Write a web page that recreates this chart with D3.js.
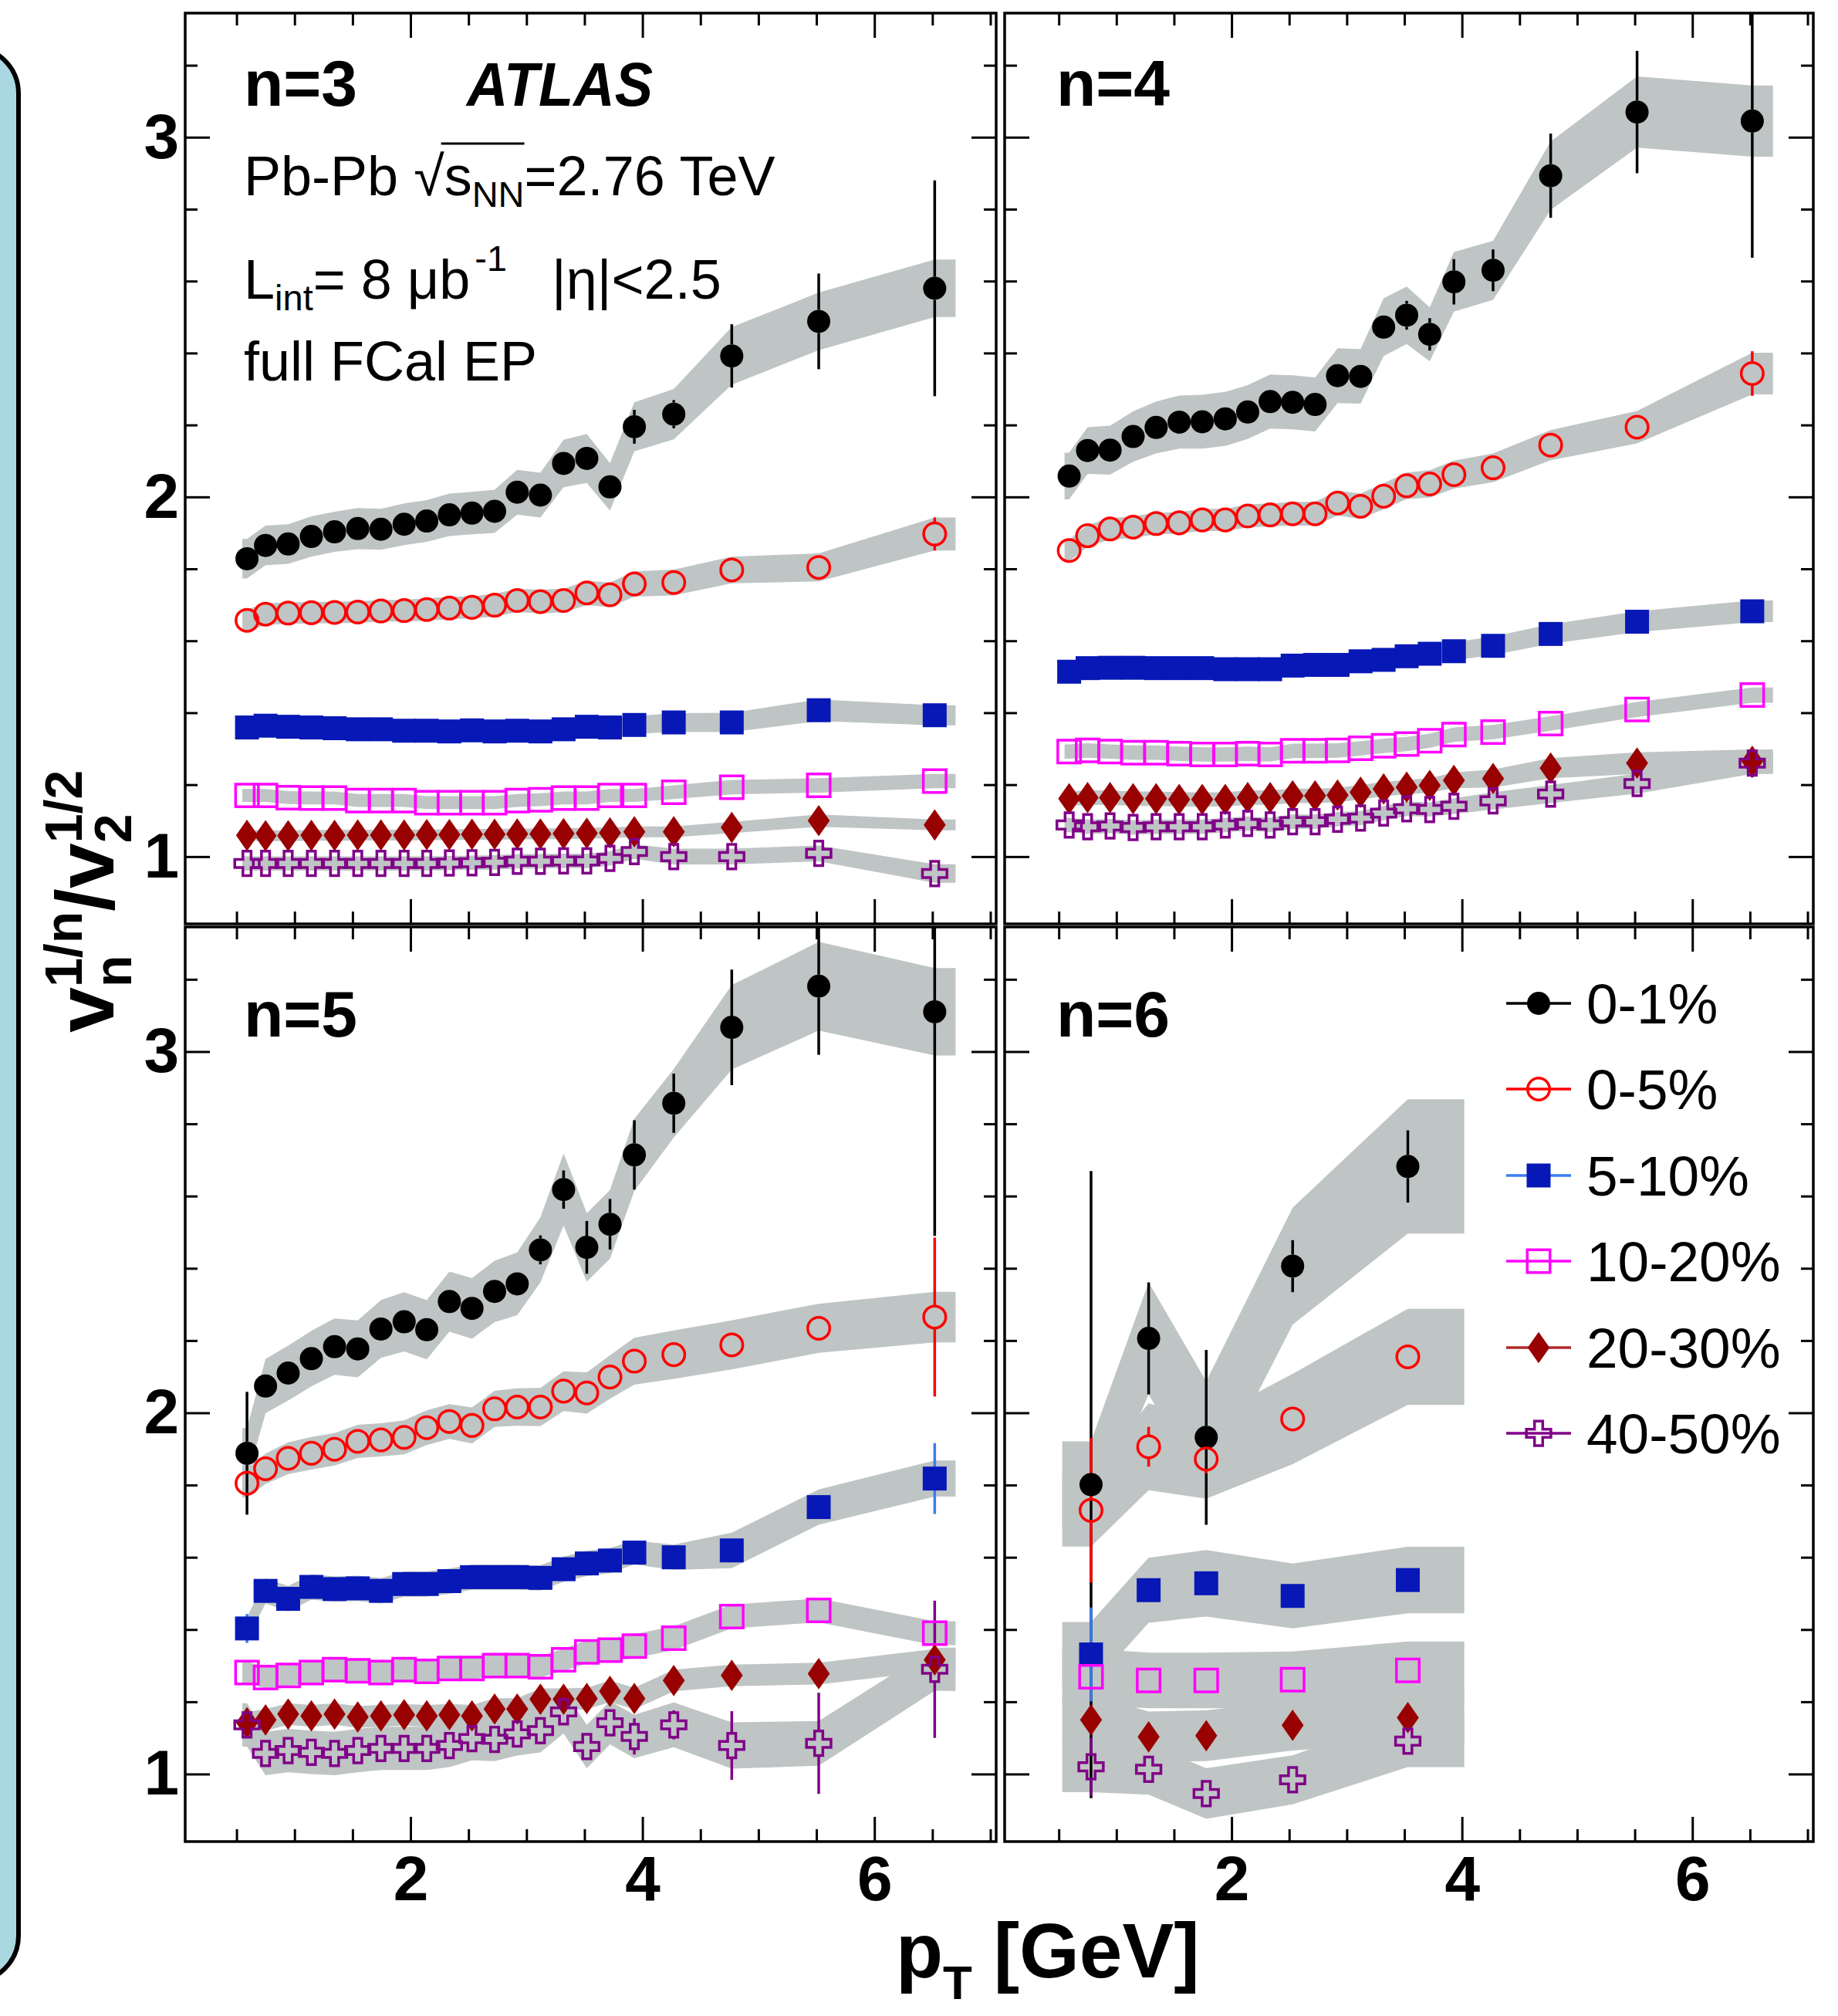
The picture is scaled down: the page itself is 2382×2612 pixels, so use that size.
<!DOCTYPE html>
<html>
<head>
<meta charset="utf-8">
<script src="https://cdn.jsdelivr.net/npm/d3@7"></script>
<style>
  body { margin: 0; background: #fff; }
  svg { display: block; }
</style>
</head>
<body>
<script>
const FONT = '"Liberation Sans", Arial, Helvetica, sans-serif';

// ---- data -------------------------------------------------------------
const centralities = ["0-1%", "0-5%", "5-10%", "10-20%", "20-30%", "40-50%"];
const panelLabels = ["n=3", "n=4", "n=5", "n=6"];
const yTickValues = [1, 2, 3];
const xTickValues = [2, 4, 6];

// pT bin centres (GeV)
const ptBins = [0.59, 0.75, 0.945, 1.145, 1.345, 1.545, 1.745, 1.945, 2.14, 2.335, 2.53,
                2.725, 2.92, 3.12, 3.32, 3.52, 3.72, 3.93, 4.27, 4.77, 5.52, 6.52];
const ptBinsN6 = [0.78, 1.28, 1.78, 2.53, 3.53];
// extent of the systematic bands
const bandRange = [[0.55, 6.7], [0.55, 6.7], [0.55, 6.7], [0.53, 4.02]];

// n=3  (v = value, s = systematic half width, e = statistical error)
const v3_01 = [1.828, 1.865, 1.869, 1.890, 1.903, 1.912, 1.910, 1.924, 1.933, 1.950, 1.955, 1.960, 2.013, 2.005, 2.093, 2.107, 2.028, 2.195, 2.230, 2.392, 2.488, 2.580];
const s3_01 = [0.055, 0.055, 0.055, 0.056, 0.056, 0.057, 0.057, 0.058, 0.058, 0.059, 0.059, 0.060, 0.062, 0.062, 0.066, 0.068, 0.066, 0.068, 0.070, 0.080, 0.080, 0.080];
const e3_01 = [0.01, 0.01, 0.01, 0.01, 0.01, 0.01, 0.01, 0.01, 0.01, 0.01, 0.012, 0.012, 0.014, 0.015, 0.018, 0.02, 0.03, 0.047, 0.039, 0.088, 0.133, 0.30];
const v3_05 = [1.657, 1.674, 1.677, 1.678, 1.679, 1.680, 1.683, 1.684, 1.687, 1.691, 1.693, 1.699, 1.712, 1.709, 1.712, 1.733, 1.728, 1.758, 1.762, 1.797, 1.804, 1.897];
const s3_05 = [0.030, 0.030, 0.030, 0.030, 0.030, 0.030, 0.030, 0.030, 0.031, 0.031, 0.031, 0.032, 0.032, 0.033, 0.033, 0.034, 0.034, 0.035, 0.036, 0.037, 0.039, 0.046];
const e3_05 = [0.01, 0.01, 0.01, 0.01, 0.01, 0.01, 0.01, 0.01, 0.01, 0.01, 0.01, 0.01, 0.01, 0.01, 0.01, 0.01, 0.01, 0.01, 0.01, 0.01, 0.02, 0.046];
const v3_510 = [1.359, 1.364, 1.361, 1.359, 1.357, 1.354, 1.354, 1.350, 1.350, 1.348, 1.351, 1.348, 1.350, 1.348, 1.354, 1.361, 1.359, 1.366, 1.373, 1.373, 1.407, 1.393];
const s3_510 = [0.025, 0.025, 0.025, 0.025, 0.025, 0.025, 0.025, 0.025, 0.025, 0.025, 0.025, 0.025, 0.025, 0.025, 0.025, 0.025, 0.025, 0.025, 0.026, 0.027, 0.030, 0.028];
const e3_510 = [0.01, 0.01, 0.01, 0.01, 0.01, 0.01, 0.01, 0.01, 0.01, 0.01, 0.01, 0.01, 0.01, 0.01, 0.01, 0.01, 0.01, 0.01, 0.01, 0.01, 0.01, 0.01];
const v3_1020 = [1.170, 1.170, 1.164, 1.163, 1.163, 1.156, 1.156, 1.156, 1.150, 1.150, 1.150, 1.150, 1.156, 1.158, 1.163, 1.163, 1.170, 1.170, 1.179, 1.193, 1.198, 1.210];
const s3_1020 = [0.018, 0.018, 0.018, 0.018, 0.018, 0.018, 0.018, 0.018, 0.018, 0.018, 0.018, 0.018, 0.018, 0.018, 0.018, 0.018, 0.018, 0.018, 0.019, 0.020, 0.020, 0.020];
const e3_1020 = [0.01, 0.01, 0.01, 0.01, 0.01, 0.01, 0.01, 0.01, 0.01, 0.01, 0.01, 0.01, 0.01, 0.01, 0.01, 0.01, 0.01, 0.01, 0.01, 0.01, 0.01, 0.01];
const v3_2030 = [1.059, 1.058, 1.058, 1.059, 1.059, 1.060, 1.060, 1.060, 1.061, 1.061, 1.062, 1.062, 1.063, 1.063, 1.064, 1.065, 1.066, 1.069, 1.069, 1.081, 1.100, 1.088];
const s3_2030 = [0.015, 0.015, 0.015, 0.015, 0.015, 0.015, 0.015, 0.015, 0.015, 0.015, 0.015, 0.015, 0.015, 0.015, 0.015, 0.015, 0.015, 0.015, 0.015, 0.016, 0.017, 0.015];
const e3_2030 = [0.01, 0.01, 0.01, 0.01, 0.01, 0.01, 0.01, 0.01, 0.01, 0.01, 0.01, 0.01, 0.01, 0.01, 0.01, 0.01, 0.01, 0.01, 0.01, 0.01, 0.01, 0.01];
const v3_4050 = [0.981, 0.981, 0.981, 0.981, 0.981, 0.981, 0.981, 0.981, 0.981, 0.982, 0.983, 0.984, 0.987, 0.987, 0.988, 0.988, 0.995, 1.014, 1.000, 1.000, 1.009, 0.953];
const s3_4050 = [0.020, 0.020, 0.020, 0.020, 0.020, 0.020, 0.020, 0.020, 0.020, 0.020, 0.020, 0.020, 0.020, 0.020, 0.020, 0.020, 0.020, 0.020, 0.022, 0.022, 0.022, 0.026];
const e3_4050 = [0.01, 0.01, 0.01, 0.01, 0.01, 0.01, 0.01, 0.01, 0.01, 0.01, 0.01, 0.01, 0.01, 0.01, 0.01, 0.01, 0.01, 0.01, 0.01, 0.01, 0.01, 0.03];

// n=4
const v4_01 = [2.058, 2.129, 2.130, 2.168, 2.193, 2.208, 2.209, 2.217, 2.236, 2.265, 2.263, 2.257, 2.337, 2.335, 2.472, 2.505, 2.452, 2.598, 2.630, 2.893, 3.070, 3.045];
const s4_01 = [0.065, 0.065, 0.068, 0.070, 0.072, 0.074, 0.075, 0.075, 0.075, 0.075, 0.075, 0.075, 0.076, 0.076, 0.080, 0.080, 0.075, 0.083, 0.082, 0.095, 0.099, 0.099];
const e4_01 = [0.01, 0.01, 0.01, 0.01, 0.01, 0.01, 0.01, 0.01, 0.01, 0.012, 0.012, 0.012, 0.015, 0.015, 0.02, 0.04, 0.045, 0.063, 0.058, 0.117, 0.17, 0.38];
const v4_05 = [1.851, 1.892, 1.911, 1.916, 1.926, 1.928, 1.936, 1.936, 1.947, 1.950, 1.953, 1.953, 1.983, 1.974, 2.002, 2.031, 2.036, 2.062, 2.081, 2.144, 2.194, 2.343];
const s4_05 = [0.030, 0.030, 0.030, 0.030, 0.030, 0.030, 0.031, 0.031, 0.032, 0.032, 0.033, 0.033, 0.035, 0.035, 0.036, 0.037, 0.038, 0.039, 0.040, 0.042, 0.045, 0.058];
const e4_05 = [0.01, 0.01, 0.01, 0.01, 0.01, 0.01, 0.01, 0.01, 0.01, 0.01, 0.01, 0.01, 0.01, 0.01, 0.01, 0.01, 0.01, 0.01, 0.01, 0.01, 0.02, 0.062];
const v4_510 = [1.514, 1.524, 1.525, 1.525, 1.524, 1.524, 1.524, 1.521, 1.521, 1.521, 1.531, 1.533, 1.533, 1.543, 1.547, 1.557, 1.564, 1.571, 1.586, 1.619, 1.653, 1.682];
const s4_510 = [0.025, 0.025, 0.025, 0.025, 0.025, 0.025, 0.025, 0.025, 0.025, 0.025, 0.025, 0.025, 0.025, 0.025, 0.025, 0.025, 0.025, 0.025, 0.026, 0.027, 0.029, 0.030];
const e4_510 = [0.01, 0.01, 0.01, 0.01, 0.01, 0.01, 0.01, 0.01, 0.01, 0.01, 0.01, 0.01, 0.01, 0.01, 0.01, 0.01, 0.01, 0.01, 0.01, 0.01, 0.01, 0.01];
const v4_1020 = [1.292, 1.295, 1.292, 1.289, 1.289, 1.286, 1.284, 1.284, 1.286, 1.284, 1.294, 1.294, 1.295, 1.301, 1.308, 1.313, 1.322, 1.339, 1.346, 1.370, 1.409, 1.449];
const s4_1020 = [0.020, 0.020, 0.020, 0.020, 0.020, 0.020, 0.020, 0.020, 0.020, 0.020, 0.020, 0.020, 0.020, 0.020, 0.020, 0.020, 0.020, 0.020, 0.020, 0.020, 0.021, 0.021];
const e4_1020 = [0.01, 0.01, 0.01, 0.01, 0.01, 0.01, 0.01, 0.01, 0.01, 0.01, 0.01, 0.01, 0.01, 0.01, 0.01, 0.01, 0.01, 0.01, 0.01, 0.01, 0.01, 0.01];
const v4_2030 = [1.161, 1.164, 1.164, 1.161, 1.161, 1.159, 1.159, 1.159, 1.164, 1.164, 1.169, 1.169, 1.171, 1.179, 1.188, 1.193, 1.198, 1.212, 1.217, 1.246, 1.260, 1.265];
const s4_2030 = [0.020, 0.020, 0.020, 0.020, 0.020, 0.020, 0.020, 0.020, 0.020, 0.020, 0.020, 0.020, 0.020, 0.020, 0.020, 0.020, 0.020, 0.022, 0.025, 0.028, 0.030, 0.033];
const e4_2030 = [0.01, 0.01, 0.01, 0.01, 0.01, 0.01, 0.01, 0.01, 0.01, 0.01, 0.01, 0.01, 0.01, 0.01, 0.01, 0.01, 0.01, 0.01, 0.01, 0.01, 0.01, 0.02];
const v4_4050 = [1.088, 1.083, 1.085, 1.081, 1.083, 1.083, 1.083, 1.088, 1.092, 1.088, 1.097, 1.097, 1.104, 1.107, 1.121, 1.133, 1.131, 1.140, 1.155, 1.174, 1.203, 1.260];
const s4_4050 = [0.020, 0.020, 0.020, 0.020, 0.020, 0.020, 0.020, 0.020, 0.020, 0.020, 0.020, 0.020, 0.020, 0.020, 0.020, 0.020, 0.020, 0.022, 0.024, 0.025, 0.028, 0.030];
const e4_4050 = [0.01, 0.01, 0.01, 0.01, 0.01, 0.01, 0.01, 0.01, 0.01, 0.01, 0.01, 0.01, 0.01, 0.01, 0.01, 0.01, 0.01, 0.01, 0.01, 0.01, 0.02, 0.04];

// n=5
const v5_01 = [1.888, 2.074, 2.110, 2.150, 2.183, 2.177, 2.232, 2.252, 2.230, 2.308, 2.289, 2.336, 2.357, 2.451, 2.618, 2.458, 2.522, 2.714, 2.857, 3.067, 3.181, 3.110];
const s5_01 = [0.070, 0.075, 0.076, 0.077, 0.078, 0.079, 0.080, 0.082, 0.082, 0.083, 0.084, 0.085, 0.087, 0.090, 0.100, 0.095, 0.095, 0.100, 0.095, 0.117, 0.123, 0.121];
const e5_01 = [0.17, 0.03, 0.02, 0.015, 0.015, 0.015, 0.015, 0.02, 0.02, 0.02, 0.02, 0.025, 0.03, 0.04, 0.053, 0.073, 0.07, 0.096, 0.082, 0.16, 0.19, 0.62];
const v5_05 = [1.805, 1.845, 1.874, 1.888, 1.899, 1.921, 1.925, 1.932, 1.959, 1.976, 1.965, 2.011, 2.016, 2.016, 2.060, 2.055, 2.099, 2.143, 2.161, 2.188, 2.234, 2.265];
const s5_05 = [0.040, 0.042, 0.044, 0.045, 0.045, 0.046, 0.046, 0.047, 0.048, 0.048, 0.050, 0.050, 0.052, 0.053, 0.055, 0.057, 0.060, 0.065, 0.067, 0.068, 0.068, 0.070];
const e5_05 = [0.03, 0.01, 0.01, 0.01, 0.01, 0.01, 0.01, 0.01, 0.01, 0.01, 0.01, 0.01, 0.01, 0.01, 0.01, 0.01, 0.01, 0.01, 0.02, 0.025, 0.034, 0.22];
const v5_510 = [1.403, 1.507, 1.485, 1.518, 1.512, 1.514, 1.507, 1.526, 1.526, 1.534, 1.545, 1.545, 1.545, 1.543, 1.567, 1.583, 1.591, 1.613, 1.600, 1.619, 1.739, 1.818];
const s5_510 = [0.030, 0.035, 0.035, 0.035, 0.035, 0.035, 0.035, 0.035, 0.035, 0.035, 0.035, 0.035, 0.035, 0.035, 0.035, 0.035, 0.035, 0.033, 0.035, 0.049, 0.049, 0.050];
const e5_510 = [0.04, 0.01, 0.01, 0.01, 0.01, 0.01, 0.01, 0.01, 0.01, 0.01, 0.01, 0.01, 0.01, 0.01, 0.01, 0.01, 0.01, 0.01, 0.01, 0.01, 0.02, 0.098];
const v5_1020 = [1.281, 1.267, 1.273, 1.281, 1.289, 1.286, 1.281, 1.289, 1.284, 1.292, 1.292, 1.300, 1.300, 1.297, 1.316, 1.338, 1.343, 1.354, 1.376, 1.436, 1.453, 1.390];
const s5_1020 = [0.030, 0.030, 0.030, 0.030, 0.030, 0.030, 0.030, 0.030, 0.030, 0.030, 0.030, 0.030, 0.030, 0.030, 0.031, 0.032, 0.032, 0.033, 0.033, 0.033, 0.033, 0.033];
const e5_1020 = [0.01, 0.01, 0.01, 0.01, 0.01, 0.01, 0.01, 0.01, 0.01, 0.01, 0.01, 0.01, 0.01, 0.01, 0.01, 0.01, 0.01, 0.01, 0.01, 0.01, 0.01, 0.01];
const v5_2030 = [1.142, 1.150, 1.166, 1.161, 1.166, 1.158, 1.161, 1.164, 1.161, 1.164, 1.161, 1.180, 1.180, 1.207, 1.207, 1.209, 1.229, 1.209, 1.259, 1.273, 1.278, 1.316];
const s5_2030 = [0.030, 0.030, 0.030, 0.030, 0.030, 0.030, 0.030, 0.030, 0.030, 0.030, 0.030, 0.030, 0.030, 0.030, 0.030, 0.030, 0.030, 0.030, 0.030, 0.030, 0.030, 0.030];
const e5_2030 = [0.01, 0.01, 0.01, 0.01, 0.01, 0.01, 0.01, 0.01, 0.01, 0.01, 0.01, 0.01, 0.01, 0.01, 0.01, 0.01, 0.01, 0.01, 0.01, 0.01, 0.01, 0.01];
const v5_4050 = [1.136, 1.057, 1.065, 1.060, 1.057, 1.065, 1.071, 1.071, 1.071, 1.079, 1.098, 1.096, 1.111, 1.120, 1.172, 1.076, 1.142, 1.104, 1.136, 1.079, 1.085, 1.290];
const s5_4050 = [0.060, 0.060, 0.060, 0.060, 0.060, 0.060, 0.060, 0.060, 0.060, 0.060, 0.060, 0.060, 0.060, 0.060, 0.060, 0.060, 0.060, 0.060, 0.062, 0.064, 0.062, 0.060];
const e5_4050 = [0.01, 0.01, 0.01, 0.01, 0.01, 0.01, 0.01, 0.01, 0.01, 0.01, 0.01, 0.01, 0.01, 0.01, 0.03, 0.02, 0.03, 0.05, 0.04, 0.095, 0.14, 0.19];

// n=6
const v6_01 = [1.801, 2.206, 1.932, 2.406, 2.682];
const s6_01 = [0.120, 0.155, 0.155, 0.162, 0.186];
const e6_01 = [0.868, 0.155, 0.242, 0.072, 0.10];
const v6_05 = [1.730, 1.906, 1.872, 1.983, 2.155];
const s6_05 = [0.100, 0.120, 0.110, 0.125, 0.133];
const e6_05 = [0.20, 0.055, 0.04, 0.01, 0.01];
const v6_510 = [1.331, 1.509, 1.528, 1.493, 1.537];
const s6_510 = [0.090, 0.090, 0.092, 0.090, 0.092];
const e6_510 = [0.13, 0.01, 0.01, 0.01, 0.01];
const v6_1020 = [1.269, 1.259, 1.259, 1.261, 1.287];
const s6_1020 = [0.078, 0.077, 0.077, 0.078, 0.080];
const e6_1020 = [0.02, 0.01, 0.01, 0.01, 0.01];
const v6_2030 = [1.150, 1.103, 1.106, 1.135, 1.156];
const s6_2030 = [0.070, 0.070, 0.070, 0.070, 0.070];
const e6_2030 = [0.02, 0.01, 0.01, 0.01, 0.01];
const v6_4050 = [1.020, 1.013, 0.946, 0.984, 1.091];
const s6_4050 = [0.070, 0.070, 0.070, 0.068, 0.072];
const e6_4050 = [0.08, 0.01, 0.01, 0.01, 0.03];

// ---- layout -----------------------------------------------------------
const W = 2382, H = 2612;
const colX = [240, 1302], colW = [1051, 1048];
const colDomain = [[0.057, 7.05], [0.03, 7.05]];
const rowY = [17, 1201], rowH = [1180, 1185];
const labelX = [76, 67];
const yDomain = [0.813, 3.345];
const bandColor = "#bfc4c4";

const diamond = {
  draw(ctx, size) {
    const h = Math.sqrt(size) * 0.72, w = h * 0.7;
    ctx.moveTo(0, -h); ctx.lineTo(w, 0); ctx.lineTo(0, h); ctx.lineTo(-w, 0); ctx.closePath();
  }
};

const styles = [
  { type: d3.symbolCircle, size: 707, fill: "#000", stroke: "none", line: "#000", half: 15 },
  { type: d3.symbolCircle, size: 640, fill: "none", stroke: "#ff0000", line: "#ff0000", half: 15 },
  { type: d3.symbolSquare, size: 961, fill: "#0718b6", stroke: "none", line: "#3b7cf2", half: 15 },
  { type: d3.symbolSquare, size: 870, fill: "none", stroke: "#ff00ff", line: "#ff00ff", half: 15 },
  { type: diamond, size: 800, fill: "#990000", stroke: "none", line: "#b02a2a", half: 20 },
  { type: d3.symbolCross, size: 560, fill: "none", stroke: "#800088", line: "#800088", half: 15 }
];

const panels = [
  { col: 0, row: 0, pt: ptBins, series: [[v3_01, s3_01, e3_01], [v3_05, s3_05, e3_05], [v3_510, s3_510, e3_510], [v3_1020, s3_1020, e3_1020], [v3_2030, s3_2030, e3_2030], [v3_4050, s3_4050, e3_4050]] },
  { col: 1, row: 0, pt: ptBins, series: [[v4_01, s4_01, e4_01], [v4_05, s4_05, e4_05], [v4_510, s4_510, e4_510], [v4_1020, s4_1020, e4_1020], [v4_2030, s4_2030, e4_2030], [v4_4050, s4_4050, e4_4050]] },
  { col: 0, row: 1, pt: ptBins, series: [[v5_01, s5_01, e5_01], [v5_05, s5_05, e5_05], [v5_510, s5_510, e5_510], [v5_1020, s5_1020, e5_1020], [v5_2030, s5_2030, e5_2030], [v5_4050, s5_4050, e5_4050]] },
  { col: 1, row: 1, pt: ptBinsN6, series: [[v6_01, s6_01, e6_01], [v6_05, s6_05, e6_05], [v6_510, s6_510, e6_510], [v6_1020, s6_1020, e6_1020], [v6_2030, s6_2030, e6_2030], [v6_4050, s6_4050, e6_4050]] }
];

const svg = d3.select("body").append("svg")
    .attr("width", W)
    .attr("height", H)
    .style("font-family", FONT);

svg.append("rect").attr("width", W).attr("height", H).attr("fill", "#fff");

// light blue box peeking in at the left edge
svg.append("rect")
    .attr("x", -200).attr("y", 61)
    .attr("width", 224).attr("height", 2507)
    .attr("rx", 60)
    .attr("fill", "#a9d8e0")
    .attr("stroke", "#000")
    .attr("stroke-width", 6);

const defs = svg.append("defs");

panels.forEach(function(p, i) {
    const w = colW[p.col], h = rowH[p.row];
    const x = d3.scaleLinear().domain(colDomain[p.col]).range([0, w]);
    const y = d3.scaleLinear().domain(yDomain).range([h, 0]);

    const g = svg.append("g")
        .attr("transform", "translate(" + colX[p.col] + "," + rowY[p.row] + ")");

    defs.append("clipPath").attr("id", "clip" + i)
        .append("rect").attr("width", w).attr("height", h);

    const plot = g.append("g").attr("clip-path", "url(#clip" + i + ")");

    // systematic bands
    const area = d3.area()
        .x(function(d) { return x(d.t); })
        .y0(function(d) { return y(d.v - d.s); })
        .y1(function(d) { return y(d.v + d.s); });

    p.series.forEach(function(s) {
        const v = s[0], sys = s[1], last = v.length - 1;
        const pts = p.pt.map(function(t, j) { return { t: t, v: v[j], s: sys[j] }; });
        const ext = [{ t: bandRange[i][0], v: v[0], s: sys[0] }]
            .concat(pts)
            .concat([{ t: bandRange[i][1], v: v[last], s: sys[last] }]);
        plot.append("path")
            .datum(ext)
            .attr("d", area)
            .attr("fill", bandColor);
    });

    // statistical error bars (not drawn inside the marker)
    p.series.forEach(function(s, k) {
        const st = styles[k];
        const bars = plot.append("g")
            .attr("stroke", st.line)
            .attr("stroke-width", 3.5);
        p.pt.forEach(function(t, j) {
            const yc = y(s[0][j]), yt = y(s[0][j] + s[2][j]), yb = y(s[0][j] - s[2][j]);
            if (yc - yt > st.half) {
                bars.append("line").attr("x1", x(t)).attr("x2", x(t)).attr("y1", yt).attr("y2", yc - st.half);
                bars.append("line").attr("x1", x(t)).attr("x2", x(t)).attr("y1", yc + st.half).attr("y2", yb);
            }
        });
    });

    // markers
    p.series.forEach(function(s, k) {
        const st = styles[k];
        plot.append("g").selectAll("path")
            .data(p.pt.map(function(t, j) { return { t: t, v: s[0][j] }; }))
            .enter()
            .append("path")
            .attr("transform", function(d) { return "translate(" + x(d.t) + "," + y(d.v) + ")"; })
            .attr("d", d3.symbol().type(st.type).size(st.size))
            .attr("fill", st.fill)
            .attr("stroke", st.stroke)
            .attr("stroke-width", 3.5);
    });

    // frame
    g.append("rect")
        .attr("width", w).attr("height", h)
        .attr("fill", "none")
        .attr("stroke", "#000")
        .attr("stroke-width", 3.5);

    // ticks on all four sides, pointing inward
    const yMinor = d3.range(1.2, 3.21, 0.2).filter(function(d) { return Math.abs(d - 2) > 0.01 && Math.abs(d - 3) > 0.01; });
    const xMinor = d3.range(0.5, 7.01, 0.5).filter(function(d) { return xTickValues.indexOf(d) < 0; });
    const noLabel = function() { return ""; };

    function addAxis(axis, tr) {
        const a = g.append("g").attr("transform", tr).call(axis);
        a.select(".domain").remove();
        a.selectAll("line").attr("stroke-width", 3);
        a.attr("font-family", FONT).attr("font-size", 82).attr("font-weight", "bold");
        return a;
    }

    addAxis(d3.axisLeft(y).tickValues(yTickValues).tickSize(-32).tickPadding(8)
        .tickFormat(p.col === 0 ? d3.format("d") : noLabel), "translate(0,0)");
    addAxis(d3.axisLeft(y).tickValues(yMinor).tickSize(-16).tickFormat(noLabel), "translate(0,0)");
    addAxis(d3.axisRight(y).tickValues(yTickValues).tickSize(-32).tickFormat(noLabel), "translate(" + w + ",0)");
    addAxis(d3.axisRight(y).tickValues(yMinor).tickSize(-16).tickFormat(noLabel), "translate(" + w + ",0)");
    addAxis(d3.axisTop(x).tickValues(xTickValues).tickSize(-32).tickFormat(noLabel), "translate(0,0)");
    addAxis(d3.axisTop(x).tickValues(xMinor).tickSize(-16).tickFormat(noLabel), "translate(0,0)");
    addAxis(d3.axisBottom(x).tickValues(xTickValues).tickSize(-32).tickPadding(18)
        .tickFormat(p.row === 1 ? d3.format("d") : noLabel), "translate(0," + h + ")");
    addAxis(d3.axisBottom(x).tickValues(xMinor).tickSize(-16).tickFormat(noLabel), "translate(0," + h + ")");

    // panel label
    g.append("text")
        .attr("x", labelX[p.col])
        .attr("y", p.row === 0 ? 120 : 142)
        .attr("font-size", 84)
        .attr("font-weight", "bold")
        .text(panelLabels[i]);
});

// ATLAS block in the n=3 panel
svg.append("text")
    .attr("x", 605).attr("y", 137)
    .attr("font-size", 80)
    .attr("font-weight", "bold")
    .attr("font-style", "italic")
    .attr("textLength", 241)
    .attr("lengthAdjust", "spacingAndGlyphs")
    .text("ATLAS");

const line1 = svg.append("text").attr("x", 316).attr("y", 253).attr("font-size", 72);
line1.append("tspan").text("Pb-Pb ");
line1.append("tspan").text("\u221A");
line1.append("tspan").text("s");
line1.append("tspan").attr("font-size", 47).attr("dy", 15).text("NN");
line1.append("tspan").attr("dy", -15).text("=2.76 TeV");
const n1 = line1.node();
svg.append("line")
    .attr("x1", n1.getStartPositionOfChar(7).x - 4)
    .attr("x2", n1.getEndPositionOfChar(9).x)
    .attr("y1", 186).attr("y2", 186)
    .attr("stroke", "#000").attr("stroke-width", 3);

const line2 = svg.append("text").attr("x", 316).attr("y", 387).attr("font-size", 72);
line2.append("tspan").text("L");
line2.append("tspan").attr("font-size", 47).attr("dy", 15).text("int");
line2.append("tspan").attr("dy", -15).text("= 8 \u03BCb");
line2.append("tspan").attr("font-size", 47).attr("dy", -36).attr("dx", 6).text("-1");
line2.append("tspan").attr("dy", 36).attr("dx", 58).text("|\u03B7|<2.5");

svg.append("text").attr("x", 316).attr("y", 493).attr("font-size", 72).text("full FCal EP");

// legend in the n=6 panel
const legendY = [1300, 1411, 1523, 1634, 1746, 1857];
const legend = svg.append("g");
centralities.forEach(function(c, k) {
    const st = styles[k];
    const row = legend.append("g").attr("transform", "translate(0," + legendY[k] + ")");
    row.append("line").attr("x1", 1952).attr("x2", 2036).attr("y1", 0).attr("y2", 0)
        .attr("stroke", st.line).attr("stroke-width", 3.5);
    row.append("path")
        .attr("transform", "translate(1994,0)")
        .attr("d", d3.symbol().type(st.type).size(st.size))
        .attr("fill", st.fill)
        .attr("stroke", st.stroke)
        .attr("stroke-width", 3.5);
    row.append("text").attr("x", 2056).attr("dy", "0.36em").attr("font-size", 73).text(c);
});

// axis titles
const yTitle = svg.append("text")
    .attr("transform", "translate(147,1338) rotate(-90)")
    .attr("font-weight", "bold")
    .attr("font-size", 106);
yTitle.append("tspan").text("v");
yTitle.append("tspan").attr("font-size", 68).attr("dy", 23).text("n");
yTitle.append("tspan").attr("font-size", 68).attr("dx", -41.5).attr("dy", -64).text("1/n");
yTitle.append("tspan").attr("dy", 41).text("/v");
yTitle.append("tspan").attr("font-size", 68).attr("dy", 23).text("2");
yTitle.append("tspan").attr("font-size", 68).attr("dx", -37.8).attr("dy", -64).text("1/2");

const xTitle = svg.append("text")
    .attr("x", 1161).attr("y", 2562)
    .attr("font-weight", "bold")
    .attr("font-size", 100);
xTitle.append("tspan").text("p");
xTitle.append("tspan").attr("font-size", 62).attr("dy", 28).text("T");
xTitle.append("tspan").attr("dy", -28).text(" [GeV]");
</script>
</body>
</html>
